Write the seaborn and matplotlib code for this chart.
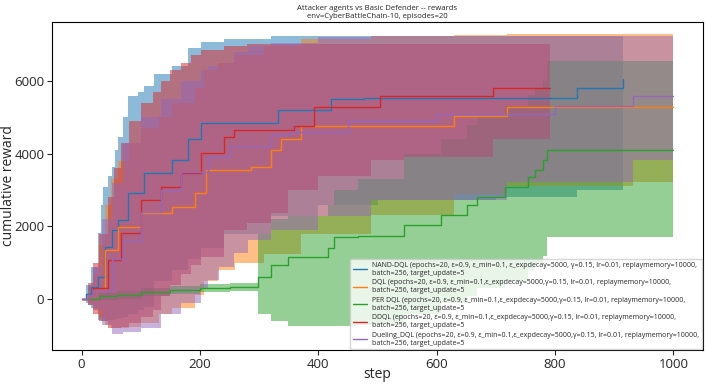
import matplotlib
matplotlib.use("Agg")
import matplotlib.pyplot as plt
import seaborn as sns

# ---------------- data ----------------
labels = [
    "NAND-DQL (epochs=20, ε=0.9, ε_min=0.1, ε_expdecay=5000, γ=0.15, lr=0.01, replaymemory=10000,\nbatch=256, target_update=5",
    "DQL (epochs=20, ε=0.9, ε_min=0.1,ε_expdecay=5000,γ=0.15, lr=0.01, replaymemory=10000,\nbatch=256, target_update=5",
    "PER DQL (epochs=20, ε=0.9, ε_min=0.1,ε_expdecay=5000,γ=0.15, lr=0.01, replaymemory=10000,\nbatch=256, target_update=5",
    "DDQL (epochs=20, ε=0.9, ε_min=0.1,ε_expdecay=5000,γ=0.15, lr=0.01, replaymemory=10000,\nbatch=256, target_update=5",
    "Dueling_DQL (epochs=20, ε=0.9, ε_min=0.1,ε_expdecay=5000,γ=0.15, lr=0.01, replaymemory=10000,\nbatch=256, target_update=5",
]

# mean curves (step, value)
blue_x = [0, 8, 16, 28, 39, 51, 62, 79, 106, 113, 152, 180, 202, 332, 421, 477, 837, 915]
blue_mean = [0, 150, 350, 615, 1430, 1900, 2180, 2920, 3480, 3480, 3830, 4390, 4850, 5210, 5490, 5540, 5810, 6040]
orange_x = [0, 10, 20, 39, 62, 101, 152, 191, 211, 233, 286, 320, 337, 371, 629, 719, 932, 1000]
orange_mean = [0, 120, 250, 1350, 1990, 2370, 2540, 2920, 3560, 3560, 3640, 4110, 4390, 4750, 5030, 5270, 5270, 5270]
green_x = [0, 30, 60, 100, 150, 200, 250, 298, 320, 348, 416, 426, 467, 545, 607, 652, 668, 716, 755, 766, 780, 786, 1000]
green_mean = [0, 80, 130, 190, 260, 300, 330, 610, 940, 1160, 1400, 1710, 1750, 2040, 2310, 2590, 2810, 3090, 3370, 3560, 3830, 4110, 4110]
red_x = [0, 10, 20, 45, 67, 101, 135, 168, 202, 241, 258, 359, 393, 505, 696, 792]
red_mean = [0, 130, 300, 1075, 1820, 2730, 3090, 3480, 4030, 4470, 4660, 4750, 5270, 5580, 5810, 5810]
purple_x = [0, 10, 20, 51, 70, 100, 135, 168, 214, 250, 320, 350, 450, 600, 800, 932, 1000]
purple_mean = [0, 120, 250, 1100, 1600, 2400, 3000, 3500, 3900, 4200, 4500, 4600, 4900, 5100, 5300, 5580, 5580]

# spread bands (step, lower, upper)
blue_bx = [0, 8, 16, 28, 33, 37, 45, 51, 56, 62, 70, 79, 95, 106, 123, 152, 180, 202, 241, 320, 400, 500, 700, 837, 915]
blue_hi = [0, 400, 900, 1820, 2600, 3090, 3400, 3640, 4100, 4470, 5000, 5580, 5700, 5850, 6180, 6400, 6900, 7060, 7150, 7220, 7220, 7220, 7220, 7220, 7220]
blue_lo = [0, -100, -250, -580, -600, -600, -580, -560, -540, -520, -480, -400, -300, -200, 500, 800, 1100, 1400, 1800, 2300, 2600, 2730, 2800, 3000, 3000]

orange_bx = [0, 10, 20, 30, 39, 50, 62, 80, 101, 130, 152, 191, 207, 230, 260, 308, 371, 489, 629, 719, 932, 1000]
orange_hi = [0, 350, 700, 1500, 2600, 3300, 3800, 4300, 4700, 5000, 5400, 5800, 6300, 6500, 6700, 6950, 7150, 7230, 7250, 7280, 7280, 7280]
orange_lo = [0, -150, -300, -500, -700, -800, -800, -750, -650, -400, -230, 130, 500, 800, 1000, 1250, 1800, 2320, 2900, 3100, 3230, 3230]

green_bx = [0, 30, 60, 100, 150, 200, 250, 298, 320, 348, 416, 426, 467, 545, 607, 652, 668, 716, 755, 766, 780, 786, 1000]
green_hi = [0, 180, 240, 300, 370, 410, 440, 1800, 2200, 2300, 2600, 3000, 3300, 4000, 4400, 4800, 5000, 5300, 5600, 5800, 6000, 6540, 6540]
green_lo = [0, -20, 20, 80, 150, 190, 220, -400, -600, -720, -720, -720, -700, -400, -100, 100, 300, 500, 800, 1000, 1200, 1710, 1710]

red_bx = [0, 10, 20, 30, 45, 55, 67, 80, 101, 120, 135, 150, 168, 185, 202, 241, 280, 320, 348, 400, 489, 545, 696, 792]
red_hi = [0, 450, 1000, 1800, 2800, 3600, 4300, 4900, 5400, 5700, 6000, 6300, 6500, 6700, 6850, 6950, 7000, 7000, 7000, 7000, 7000, 7000, 7000, 7000]
red_lo = [0, -150, -400, -600, -800, -800, -750, -650, -500, -300, 100, 400, 700, 950, 1150, 1900, 2100, 2370, 3000, 3400, 3830, 3900, 4390, 4390]

purple_bx = [0, 10, 20, 35, 51, 70, 100, 135, 168, 202, 214, 233, 258, 281, 320, 400, 489, 629, 719, 932, 1000]
purple_hi = [0, 400, 900, 2200, 3200, 4300, 5000, 5500, 6000, 6300, 6400, 6500, 6800, 6950, 7050, 7200, 7230, 7230, 7230, 7230, 7230]
purple_lo = [0, -150, -300, -700, -950, -900, -800, -400, -100, 300, 520, 900, 1270, 1630, 1900, 2300, 2730, 2730, 3230, 3830, 3830]

series = [
    (blue_x, blue_mean, blue_bx, blue_lo, blue_hi),
    (orange_x, orange_mean, orange_bx, orange_lo, orange_hi),
    (green_x, green_mean, green_bx, green_lo, green_hi),
    (red_x, red_mean, red_bx, red_lo, red_hi),
    (purple_x, purple_mean, purple_bx, purple_lo, purple_hi),
]
colors = sns.color_palette("tab10", 5)

# ---------------- plot ----------------
sns.set_style("ticks")
plt.rcParams["font.family"] = ["Open Sans", "DejaVu Sans"]

fig = plt.figure(figsize=(7.07, 3.84), dpi=100)
ax = fig.add_axes([52 / 707, 34 / 384, 651 / 707, 328 / 384])

for (xs, m, bx, lo, hi), c, lab in zip(series, colors, labels):
    sns.lineplot(x=xs, y=m, ax=ax, color=c, label=lab, drawstyle="steps-post",
                 linewidth=1.0, errorbar=None)
    ax.fill_between(bx, lo, hi, step="post", color=c, alpha=0.5, linewidth=0)

ax.set_xlim(-50, 1050)
ax.set_ylim(-1393, 7618)
ax.set_xticks([0, 200, 400, 600, 800, 1000])
ax.set_yticks([0, 2000, 4000, 6000])
ax.tick_params(labelsize=9.5, length=3.5, width=0.8, pad=2)
for s in ax.spines.values():
    s.set_visible(True)
    s.set_linewidth(0.8)
    s.set_color("black")

ax.set_xlabel("step", fontsize=10)
ax.set_ylabel("cumulative reward", fontsize=10)
ax.xaxis.set_label_coords(0.5, -0.052)
ax.yaxis.set_label_coords(-0.056, 0.5)
ax.set_title("Attacker agents vs Basic Defender -- rewards\nenv=CyberBattleChain-10, episodes=20",
             fontsize=5.6, pad=3, linespacing=1.2)

ax.legend(loc="lower right", fontsize=5, frameon=True, borderaxespad=0.1,
          handlelength=2.0, labelspacing=0.35, framealpha=0.8)

fig.savefig("out.png", dpi=100)
